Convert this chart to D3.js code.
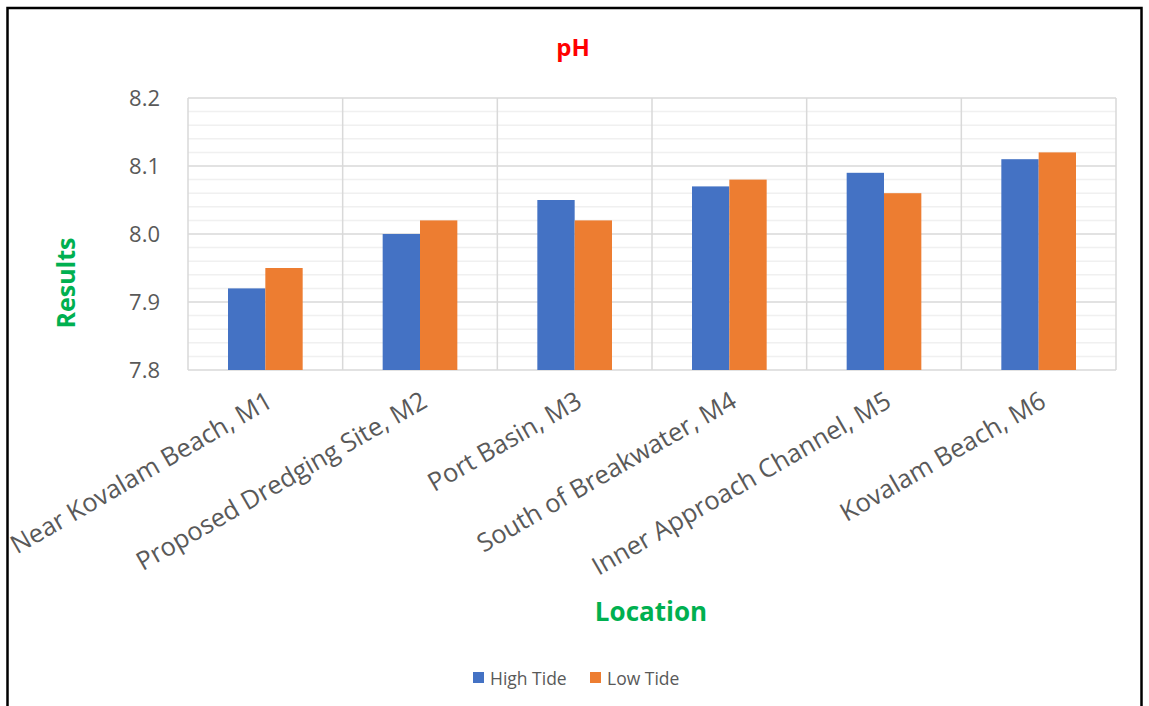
<!DOCTYPE html>
<html><head><meta charset="utf-8">
<script src="https://cdn.jsdelivr.net/npm/d3@7"></script>
<style>body{margin:0;background:#fff;} svg{display:block;}</style>
</head><body>
<svg id="chart" width="1149" height="706"></svg>
<script>
const categories = ["Near Kovalam Beach, M1","Proposed Dredging Site, M2","Port Basin, M3","South of Breakwater, M4","Inner Approach Channel, M5","Kovalam Beach, M6"];
const seriesNames = ["High Tide","Low Tide"];
const highTide = [7.92, 8.00, 8.05, 8.07, 8.09, 8.11];
const lowTide = [7.95, 8.02, 8.02, 8.08, 8.06, 8.12];
const yTicks = [7.8, 7.9, 8.0, 8.1, 8.2];
const colors = ["#4472C4","#ED7D31"];

const svg = d3.select("#chart");
const font = "'Open Sans', 'Liberation Sans', sans-serif";
// frame
svg.append("rect").attr("x",7.5).attr("y",8).attr("width",1134).attr("height",710)
  .attr("fill","none").attr("stroke","#000").attr("stroke-width",2.5);

const m = {left:188, right:1116, top:98, bottom:370};
const x0 = d3.scaleBand().domain(categories).range([m.left,m.right]).paddingInner(0).paddingOuter(0);
const x1 = d3.scaleBand().domain(seriesNames).range([40, x0.bandwidth()-40]).padding(0);
const y = d3.scaleLinear().domain([7.8,8.2]).range([m.bottom,m.top]);

const g = svg.append("g");
// minor grid
const minor = d3.range(7.82, 8.2, 0.02).filter(v => Math.abs(Math.round(v*10)-v*10) > 0.01);
g.selectAll("line.minor").data(minor).join("line")
  .attr("x1",m.left).attr("x2",m.right).attr("y1",d=>y(d)).attr("y2",d=>y(d))
  .attr("stroke","#f0f0f0").attr("stroke-width",1.5);
// major grid
g.selectAll("line.major").data(yTicks).join("line")
  .attr("x1",m.left).attr("x2",m.right).attr("y1",d=>y(d)).attr("y2",d=>y(d))
  .attr("stroke","#d9d9d9").attr("stroke-width",1.5);
// vertical separators
const seps = categories.map(c=>x0(c)).concat([m.right]);
g.selectAll("line.vsep").data(seps).join("line")
  .attr("x1",d=>d).attr("x2",d=>d).attr("y1",m.top).attr("y2",m.bottom)
  .attr("stroke","#d9d9d9").attr("stroke-width",1.5);

// bars
const data = categories.map((c,i)=>({c, vals:[highTide[i], lowTide[i]]}));
const cg = g.selectAll("g.cat").data(data).join("g").attr("transform",d=>`translate(${x0(d.c)},0)`);
cg.selectAll("rect").data(d=>d.vals.map((v,j)=>({s:seriesNames[j],v,j}))).join("rect")
  .attr("x",d=>x1(d.s)).attr("width",x1.bandwidth())
  .attr("y",d=>y(d.v)).attr("height",d=>y(7.8)-y(d.v))
  .attr("fill",d=>colors[d.j]);

// y axis labels
const yAxis = d3.axisLeft(y).tickValues(yTicks).tickFormat(d3.format(".1f")).tickSize(0).tickPadding(0);
const ya = svg.append("g").attr("transform","translate(160,0)").call(yAxis);
ya.select(".domain").remove();
ya.selectAll("text").attr("font-family",font).attr("font-size",22).attr("fill","#595959").attr("dy","0.35em");

// x axis labels
const xAxis = d3.axisBottom(x0).tickSize(0).tickPadding(0);
const xa = svg.append("g").attr("transform",`translate(0,${m.bottom})`).call(xAxis);
xa.select(".domain").remove();
xa.selectAll("text").attr("font-family",font).attr("font-size",25.5).attr("fill","#595959")
  .attr("text-anchor","end").attr("dy",null).attr("y",null)
  .attr("transform","translate(9,36) rotate(-30)");

// titles
svg.append("text").attr("x",573).attr("y",56).attr("text-anchor","middle")
  .attr("font-family",font).attr("font-weight","bold").attr("font-size",24).attr("fill","#FF0000").text("pH");
svg.append("text").attr("transform","translate(75,283) rotate(-90)").attr("text-anchor","middle")
  .attr("font-family",font).attr("font-weight","bold").attr("font-size",25).attr("fill","#00B050").text("Results");
svg.append("text").attr("x",651).attr("y",621).attr("text-anchor","middle")
  .attr("font-family",font).attr("font-weight","bold").attr("font-size",26).attr("fill","#00B050").text("Location");

// legend
const lg = svg.append("g");
const legX = [473, 590];
seriesNames.forEach((s,i)=>{
  lg.append("rect").attr("x",legX[i]).attr("y",672).attr("width",11).attr("height",11).attr("fill",colors[i]);
  lg.append("text").attr("x",legX[i]+17).attr("y",685).attr("font-family",font).attr("font-size",17.5)
    .attr("fill","#595959").text(s);
});
</script>
</body></html>
